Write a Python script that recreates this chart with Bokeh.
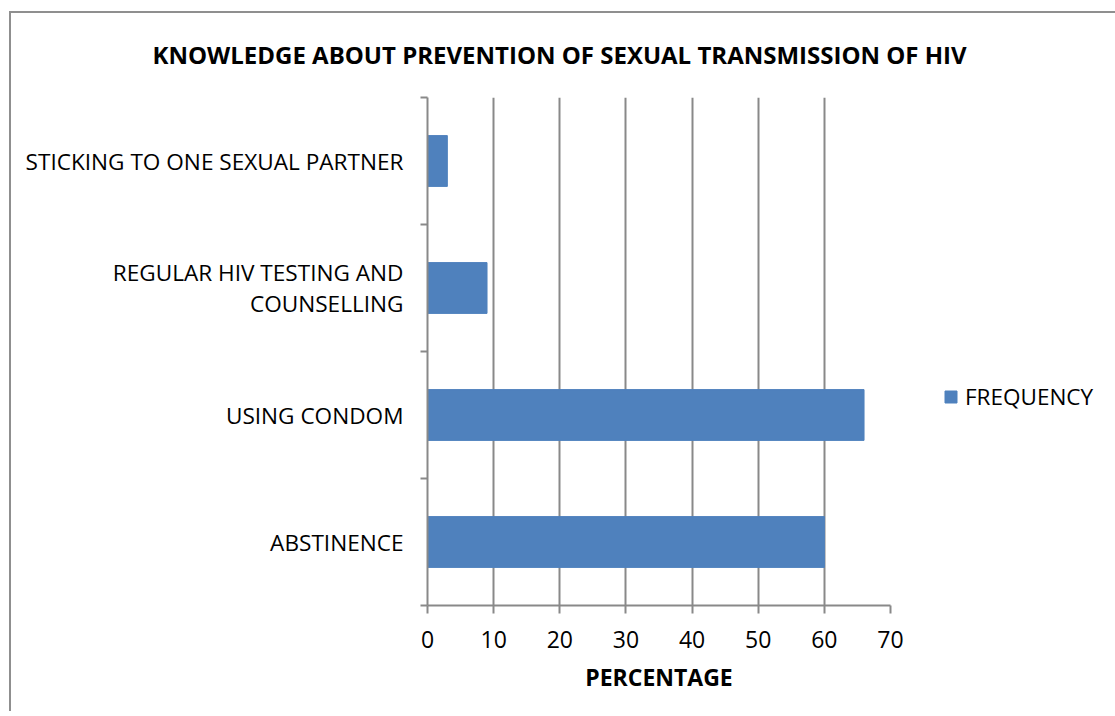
from bokeh.plotting import figure
from bokeh.models import Range1d, FixedTicker, Legend, LegendItem, ColumnDataSource
from bokeh.embed import file_html
from bokeh.resources import INLINE

# ---- data ----
categories = ["ABSTINENCE", "USING CONDOM", "REGULAR HIV TESTING AND\nCOUNSELLING",
              "STICKING TO ONE SEXUAL PARTNER"]
frequency = [60, 66, 9, 3]
x_ticks = [0, 10, 20, 30, 40, 50, 60, 70]
series_name = "FREQUENCY"
title_text = "KNOWLEDGE ABOUT PREVENTION OF SEXUAL TRANSMISSION OF HIV"
x_label = "PERCENTAGE"

FONT = "Open Sans"
GRAY = "#898989"
BAR = "#4f81bd"
FS = "23px"

pos = [i + 0.5 for i in range(len(categories))]
src = ColumnDataSource(dict(y=pos, v=frequency, cat=categories))

p = figure(frame_width=463, frame_height=508,
           x_range=Range1d(x_ticks[0], x_ticks[-1]), y_range=Range1d(0, len(categories)),
           output_backend="svg", toolbar_location=None,
           min_border_left=416, min_border_right=220, min_border_top=84, min_border_bottom=106)
p.styles = {"border-left": "2px solid #8f8f8f", "border-top": "2px solid #8f8f8f",
            "margin-left": "9px", "margin-top": "11px"}
p.outline_line_color = None
p.background_fill_color = "white"
p.border_fill_color = "white"

r = p.hbar(y="y", right="v", left=0, height=0.4, source=src,
           fill_color=BAR, line_color=BAR)

# title
p.title.text = title_text
p.title.align = "left"
p.title.offset = -275
p.title.text_font = FONT
p.title.text_font_size = "24px"
p.title.text_font_style = "bold"
p.title.text_color = "black"
p.title.vertical_align = "top"
p.title.text_line_height = 1.0
p.title.standoff = 49

# x axis
xa = p.xaxis[0]
xa.ticker = FixedTicker(ticks=x_ticks)
xa.major_tick_out = 8
xa.major_tick_in = 0
xa.minor_tick_out = 0
xa.minor_tick_in = 0
xa.axis_line_color = GRAY
xa.axis_line_width = 2
xa.major_tick_line_color = GRAY
xa.major_tick_line_width = 2
xa.major_label_text_font = FONT
xa.major_label_text_font_size = FS
xa.major_label_text_color = "black"
xa.major_label_standoff = 17
xa.axis_label = x_label
xa.axis_label_text_font = FONT
xa.axis_label_text_font_size = FS
xa.axis_label_text_font_style = "bold"
xa.axis_label_text_color = "black"
xa.axis_label_standoff = 10

# y axis (labels at category centres, ticks at boundaries)
ya = p.yaxis[0]
ya.ticker = FixedTicker(ticks=pos, minor_ticks=list(range(len(categories) + 1)))
ya.major_label_overrides = {pos[i]: categories[i] for i in range(len(categories))}
ya.major_tick_out = 0
ya.major_tick_in = 0
ya.minor_tick_out = 7
ya.minor_tick_in = 0
ya.minor_tick_line_color = GRAY
ya.minor_tick_line_width = 2
ya.axis_line_color = GRAY
ya.axis_line_width = 2
ya.major_label_text_font = FONT
ya.major_label_text_font_size = "22.6px"
ya.major_label_text_color = "black"
ya.major_label_text_line_height = 1.0
ya.major_label_standoff = 17

# grid
p.xgrid.ticker = FixedTicker(ticks=x_ticks)
p.xgrid.grid_line_color = GRAY
p.xgrid.grid_line_width = 2
p.ygrid.visible = False

# legend
legend = Legend(items=[LegendItem(label=series_name, renderers=[r])],
                location=(53, 193), glyph_width=15, glyph_height=15,
                label_standoff=7, padding=0, margin=0, spacing=0,
                border_line_color=None, background_fill_alpha=0,
                label_text_font=FONT, label_text_font_size="22.5px",
                label_text_color="black")
p.add_layout(legend, "right")

open("out.html", "w").write(file_html(p, INLINE))
